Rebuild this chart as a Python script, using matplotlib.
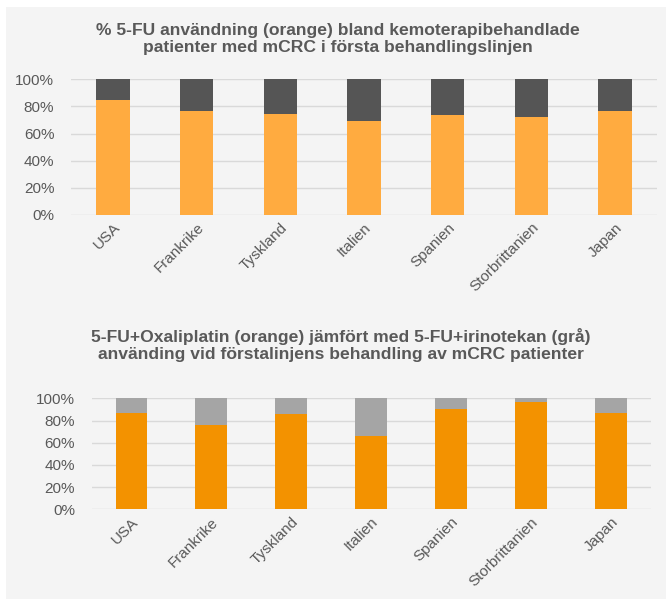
import matplotlib
matplotlib.use('Agg')
import matplotlib.pyplot as plt
from matplotlib.patches import Rectangle
from matplotlib.ticker import PercentFormatter
import numpy as np

plt.rcParams['font.family'] = ['Liberation Sans', 'DejaVu Sans']

countries = ['USA', 'Frankrike', 'Tyskland', 'Italien', 'Spanien', 'Storbrittanien', 'Japan']

# share of 5-FU among chemo-treated first-line mCRC patients
fu_share = [84.8, 76.6, 74.2, 69.5, 73.4, 72.2, 76.6]

# 5-FU+oxaliplatin share vs 5-FU+irinotecan
oxali_share = [86.5, 76.0, 85.6, 66.3, 90.6, 96.4, 86.5]

title_top = '% 5-FU användning (orange) bland kemoterapibehandlade\npatienter med mCRC i första behandlingslinjen'
title_bottom = '5-FU+Oxaliplatin (orange) jämfört med 5-FU+irinotekan (grå)\nanvänding vid förstalinjens behandling av mCRC patienter'

text_col = '#595959'
bg = '#f4f4f4'

fig = plt.figure(figsize=(6.66, 5.99), dpi=100)
fig.patch.set_facecolor('white')
fig.add_artist(Rectangle((6 / 666, 0), 1, 1 - 7 / 599, transform=fig.transFigure,
                         facecolor=bg, edgecolor='none', zorder=-10))


def stacked(ax, vals, c_main, c_rest):
    x = np.arange(len(countries))
    vals = np.array(vals)
    ax.bar(x, vals, width=0.4, color=c_main, zorder=3)
    ax.bar(x, 100 - vals, bottom=vals, width=0.4, color=c_rest, zorder=3)
    ax.set_xlim(-0.5, len(countries) - 0.5)
    ax.set_ylim(0, 100)
    ax.set_yticks(range(0, 101, 20))
    ax.yaxis.set_major_formatter(PercentFormatter(decimals=0))
    ax.grid(axis='y', color='#d9d9d9', linewidth=1, zorder=0)
    ax.set_facecolor('none')
    for s in ax.spines.values():
        s.set_visible(False)
    ax.tick_params(axis='y', length=0, pad=12, labelsize=11, labelcolor=text_col)
    ax.tick_params(axis='x', length=0, pad=4, labelsize=11, labelcolor=text_col)
    ax.set_xticks(x)
    ax.set_xticklabels(countries, rotation=45, ha='right', va='top', rotation_mode='anchor')
    ax.set_axisbelow(True)


ax1 = fig.add_axes([71 / 666, 1 - 215 / 599, 586 / 666, 135.7 / 599])
stacked(ax1, fu_share, '#ffab40', '#555555')
fig.text(338 / 666, 1 - 39 / 599, title_top, ha='center', va='center', fontsize=12.6,
         fontweight='bold', color=text_col, linespacing=1.2)

ax2 = fig.add_axes([91.6 / 666, 1 - 509.3 / 599, 559 / 666, 111 / 599])
stacked(ax2, oxali_share, '#f39200', '#a5a5a5')
fig.text(341 / 666, 1 - 345 / 599, title_bottom, ha='center', va='center', fontsize=12.6,
         fontweight='bold', color=text_col, linespacing=1.2)

fig.savefig('out.png', dpi=100, facecolor=fig.get_facecolor())
